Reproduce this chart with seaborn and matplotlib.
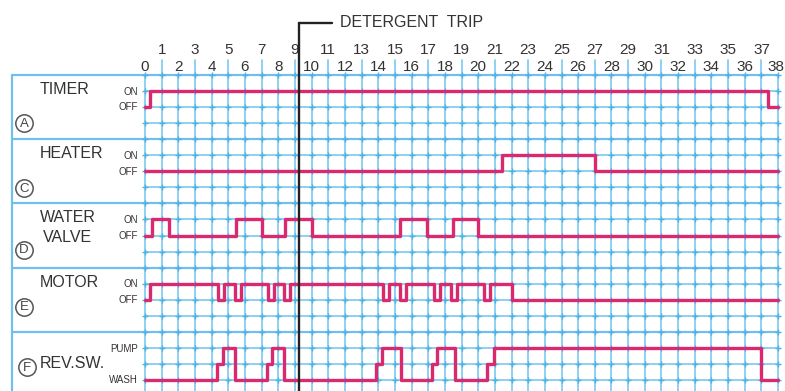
import matplotlib
matplotlib.use("Agg")
import matplotlib.pyplot as plt
import numpy as np
import pandas as pd
import seaborn as sns

# ---- timing data (time in cam steps 0..38) ----
steps = list(range(0, 39))

timer_t = [0, 0.3, 37.4, 38]
timer_s = [0, 1, 0, 0]

heater_t = [0, 21.4, 27.0, 38]
heater_s = [0, 1, 0, 0]

valve_t = [0, 0.4, 1.45, 5.45, 7.0, 8.4, 10.0, 15.3, 16.95, 18.5, 20.0, 38]
valve_s = [0, 1, 0, 1, 0, 1, 0, 1, 0, 1, 0, 0]

motor_t = [0, 0.3, 4.4, 4.75, 5.4, 5.75, 7.4, 7.75, 8.35, 8.7,
           14.3, 14.65, 15.3, 15.65, 17.35, 17.7, 18.35, 18.7, 20.35, 20.7, 22.05, 38]
motor_s = [0, 1, 0, 1, 0, 1, 0, 1, 0, 1,
           0, 1, 0, 1, 0, 1, 0, 1, 0, 1, 0, 0]

# reverse switch: 0 = WASH, 1 = intermediate, 2 = PUMP
revsw_t = [0, 4.3, 4.7, 5.4, 7.3, 7.65, 8.35, 13.85, 14.2, 15.35,
           17.2, 17.5, 18.6, 20.5, 20.95, 37.0, 38]
revsw_s = [0, 1, 2, 0, 1, 2, 0, 1, 2, 0,
           1, 2, 0, 1, 2, 0, 0]

detergent_trip = 9.25

channel_names = ["TIMER", "HEATER", "WATER\nVALVE", "MOTOR", "REV.SW."]
channel_tags = ["A", "C", "D", "E", "F"]
level_labels = [("ON", "OFF"), ("ON", "OFF"), ("ON", "OFF"), ("ON", "OFF"), ("PUMP", "WASH")]

channels = [(timer_t, timer_s), (heater_t, heater_s), (valve_t, valve_s),
            (motor_t, motor_s), (revsw_t, revsw_s)]

# ---- styling ----
sns.set_theme(style="white")
plt.rcParams['font.family'] = ['Liberation Sans', 'DejaVu Sans']

GRID = "#86cdf0"
GRID_DARK = "#4fb0e3"
FRAME = "#6fc0ea"
TRACE = "#d92a6f"
TEXT = "#333333"

fig = plt.figure(figsize=(7.85, 3.91), dpi=100)
ax = fig.add_axes([0, 0, 1, 1])

ROWS_PER = 4
n_rows = ROWS_PER * len(channels)
t_end = steps[-1]
left_edge = -7.98

# grid lines
for s in steps:
    ax.plot([s, s], [0, n_rows], color=GRID, lw=1.3, zorder=1)
    if s % 2 == 1:
        ax.plot([s, s], [0, -0.95], color=GRID, lw=1.3, zorder=1)
for r in range(n_rows + 1):
    if r % ROWS_PER == 0:
        ax.plot([left_edge, t_end], [r, r], color=FRAME, lw=1.6, zorder=1)
    else:
        ax.plot([0, t_end], [r, r], color=GRID, lw=1.3, zorder=1)
ax.plot([left_edge, left_edge], [0, n_rows], color=FRAME, lw=1.6, zorder=1)

gx, gy = np.meshgrid(steps, np.arange(n_rows + 1))
ax.scatter(gx.ravel(), gy.ravel(), marker="+", s=20, color=GRID_DARK,
           linewidths=1.0, zorder=1.5)

# step labels
for s in steps:
    xs = s - 0.1 if s == t_end else s
    if s % 2 == 0:
        ax.text(xs, -0.5, str(s), ha="center", va="center", fontsize=11, color=TEXT)
    else:
        ax.text(xs, -1.58, str(s), ha="center", va="center", fontsize=11, color=TEXT)

# traces
for i, (t, st) in enumerate(channels):
    top = i * ROWS_PER
    smax = max(st)
    y = [top + 1 + (smax - v) for v in st]
    df = pd.DataFrame({"t": t, "y": y})
    sns.lineplot(data=df, x="t", y="y", drawstyle="steps-post", estimator=None,
                 sort=False, color=TRACE, linewidth=2.4, ax=ax, zorder=4)

    # channel names
    name = channel_names[i]
    if "\n" in name:
        l1, l2 = name.split("\n")
        ax.text(-6.3, top + 0.9, l1, ha="left", va="center", fontsize=11.5, color=TEXT)
        ax.text(-6.15, top + 2.1, l2, ha="left", va="center", fontsize=11.5, color=TEXT)
    elif i == 4:
        ax.text(-6.3, top + 1.95, name, ha="left", va="center", fontsize=11.5, color=TEXT)
    else:
        ax.text(-6.3, top + 0.9, name, ha="left", va="center", fontsize=11.5, color=TEXT)

    hi, lo = level_labels[i]
    ax.text(-0.42, top + 1.05, hi, ha="right", va="center", fontsize=7, color=TEXT)
    lo_row = top + 1 + smax + 0.02
    ax.text(-0.42, lo_row, lo, ha="right", va="center", fontsize=7, color=TEXT)

    # circled tag
    tag_y = [3.0, 3.05, 2.9, 2.45, 2.2][i] + top
    tag_x = -7.26 if i < 4 else -7.08
    ax.plot([tag_x], [tag_y], marker="o", markersize=12.5, markerfacecolor="none",
            markeredgecolor="#555555", markeredgewidth=1.1, zorder=3)
    ax.text(tag_x, tag_y + 0.03, channel_tags[i], ha="center", va="center",
            fontsize=9.5, color="#444444")

# detergent trip marker
trip_top = -3.24
ax.plot([detergent_trip, detergent_trip], [trip_top, n_rows], color="#222222",
        lw=1.7, zorder=5, solid_joinstyle="miter")
ax.plot([detergent_trip, 11.2], [trip_top, trip_top], color="#222222", lw=1.7, zorder=5)
ax.text(11.7, trip_top, "DETERGENT  TRIP", ha="left", va="center", fontsize=11.5,
        color=TEXT)

ax.set_xlim(-145 / 16.66, (785 - 145) / 16.66)
ax.set_ylim((391 - 75) / 16.05, -75 / 16.05)
ax.axis("off")

fig.savefig("out.png", dpi=100)
